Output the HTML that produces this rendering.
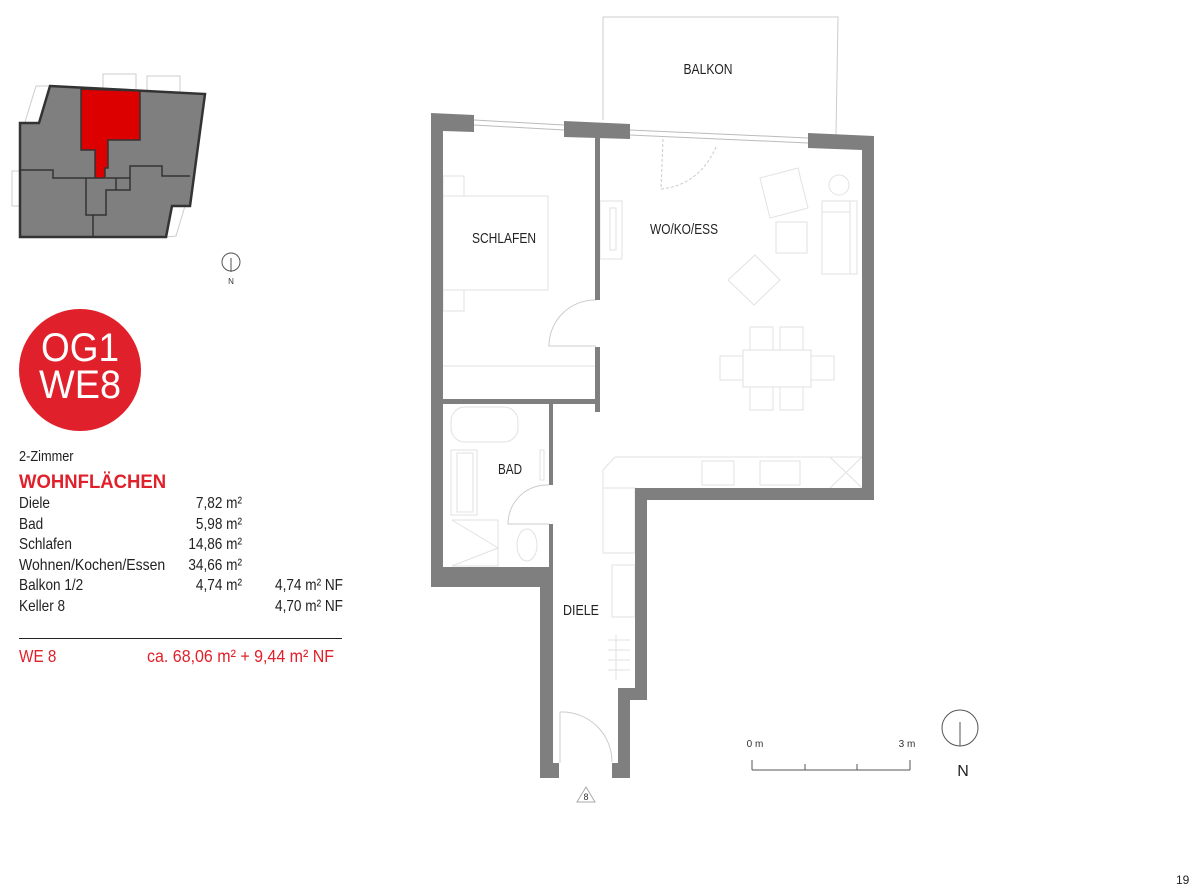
<!DOCTYPE html>
<html><head><meta charset="utf-8"><style>
html,body{margin:0;padding:0;background:#fff}
svg{display:block}
text{font-family:"Liberation Sans",sans-serif}
</style></head><body>
<svg width="1200" height="893" viewBox="0 0 1200 893" xmlns="http://www.w3.org/2000/svg">
<!-- keyplan -->
<g fill="none" stroke="#ccc" stroke-width="1">
<rect x="103" y="74" width="33" height="16"/><rect x="147" y="76" width="33" height="16"/>
<path d="M50,86 L36,86 L25,122"/><rect x="12" y="171" width="10" height="35"/>
<path d="M172,206 L185,206 L176,236 L166,237"/>
</g>
<polygon points="50,86 205,94 190,206 172,206 166,237 20,237 20,123 39,123" fill="#7f7f7f" stroke="#333" stroke-width="2.5"/>
<polygon points="81,89 140,91 140,140 108,140 108,168 105,168 105,178 95,178 95,150 81,150" fill="#dd0000" stroke="#333" stroke-width="1.5"/>
<g fill="none" stroke="#333" stroke-width="1.5">
<path d="M20,170 L53,170 L53,178 L95,178"/>
<path d="M86,178 L86,215 L106,215 L106,190 L130,190 L130,166 L162,166 L162,176 L190,176"/>
<path d="M116,178 L116,190 M106,178 L130,178"/>
<path d="M93,215 L93,237"/>
</g>
<circle cx="231" cy="262" r="9" fill="none" stroke="#555" stroke-width="1"/>
<line x1="231" y1="258" x2="231" y2="272" stroke="#555"/>
<text x="231" y="284" font-size="8" text-anchor="middle" fill="#333">N</text>

<!-- badge -->
<circle cx="80" cy="370" r="61" fill="#e0202a"/>
<text x="80" y="361" font-size="40" fill="#fff" text-anchor="middle" textLength="78" lengthAdjust="spacingAndGlyphs">OG1</text>
<text x="80" y="398" font-size="40" fill="#fff" text-anchor="middle" textLength="82" lengthAdjust="spacingAndGlyphs">WE8</text>

<!-- table -->
<g transform="scale(0.85,1)">
<g font-size="16" fill="#222">
<text x="22.4" y="461" font-size="15">2-Zimmer</text>
<text x="22.4" y="488" font-size="19" font-weight="bold" fill="#e0202a" textLength="173" lengthAdjust="spacingAndGlyphs">WOHNFLÄCHEN</text>
<text x="22.4" y="508">Diele</text><text x="284.7" y="508" text-anchor="end">7,82 m²</text>
<text x="22.4" y="529">Bad</text><text x="284.7" y="529" text-anchor="end">5,98 m²</text>
<text x="22.4" y="549">Schlafen</text><text x="284.7" y="549" text-anchor="end">14,86 m²</text>
<text x="22.4" y="570" textLength="172" lengthAdjust="spacingAndGlyphs">Wohnen/Kochen/Essen</text><text x="284.7" y="570" text-anchor="end">34,66 m²</text>
<text x="22.4" y="590">Balkon 1/2</text><text x="284.7" y="590" text-anchor="end">4,74 m²</text><text x="403.5" y="590" text-anchor="end">4,74 m² NF</text>
<text x="22.4" y="611">Keller 8</text><text x="403.5" y="611" text-anchor="end">4,70 m² NF</text>
</g>
<text x="22.4" y="662" font-size="18" fill="#e0202a">WE 8</text>
<text x="393" y="662" font-size="18" fill="#e0202a" text-anchor="end" textLength="220" lengthAdjust="spacingAndGlyphs">ca. 68,06 m² + 9,44 m² NF</text>
</g>
<line x1="19" y1="638.5" x2="342" y2="638.5" stroke="#222" stroke-width="1"/>

<!-- balcony -->
<path d="M603,17 L603,120 M603,17 L838,17 L836,135" fill="none" stroke="#ccc" stroke-width="1"/>
<text x="708" y="74" font-size="15" text-anchor="middle" fill="#222" textLength="49" lengthAdjust="spacingAndGlyphs">BALKON</text>

<!-- windows -->
<g stroke="#bbb" stroke-width="1" fill="none">
<path d="M474,120 L564,125 M474,125 L564,130"/>
<path d="M630,130 L808,138 M630,135 L808,143"/>
</g>
<!-- furniture light -->
<g stroke="#e2e2e2" stroke-width="1" fill="none">
<path d="M663,139 L661,189 Q700,185 717,145" stroke-dasharray="3,2" stroke="#ccc"/>
<rect x="443" y="176" width="21" height="20"/><rect x="443" y="196" width="105" height="94"/><rect x="443" y="290" width="21" height="21"/>
<line x1="443" y1="366" x2="595" y2="366"/>
<rect x="600" y="201" width="22" height="58"/><rect x="610" y="208" width="6" height="42"/>
<polygon points="760,178 798,168 808,208 770,218"/><circle cx="839" cy="185" r="10"/>
<rect x="822" y="201" width="35" height="73"/><line x1="822" y1="212" x2="850" y2="212"/><line x1="850" y1="201" x2="850" y2="274"/>
<rect x="776" y="222" width="31" height="31"/>
<polygon points="728,280 755,255 780,280 754,305"/>
<rect x="743" y="350" width="68" height="37"/>
<rect x="750" y="327" width="23" height="23"/><rect x="780" y="327" width="23" height="23"/>
<rect x="750" y="387" width="23" height="23"/><rect x="780" y="387" width="23" height="23"/>
<rect x="720" y="356" width="23" height="24"/><rect x="811" y="356" width="23" height="24"/>
<path d="M603,488 L603,470 L615,457 L862,457"/><rect x="702" y="461" width="32" height="24"/><rect x="760" y="461" width="40" height="24"/>
<path d="M830,457 L862,488 M862,457 L830,488"/>
<rect x="603" y="488" width="32" height="65"/><rect x="612" y="565" width="23" height="52"/>
<path d="M608,640 L630,640 M608,650 L630,650 M608,660 L630,660 M608,670 L630,670 M616,635 L616,680"/>
<rect x="451" y="407" width="67" height="35" rx="14"/><rect x="451" y="450" width="26" height="65"/><rect x="457" y="453" width="16" height="59"/>
<rect x="540" y="450" width="4" height="30"/>
<path d="M452,520 L498,520 L498,566 L452,566 M452,520 L498,548 L452,566"/>
<ellipse cx="527" cy="545" rx="10" ry="16"/>
</g>
<!-- doors -->
<g stroke="#ccc" stroke-width="1" fill="none">
<path d="M596,300 A46,46 0 0 0 549,346 L596,346"/>
<path d="M549,485 A39,39 0 0 0 508,524 L549,524"/>
<path d="M560,712 A50,50 0 0 1 612,762"/><line x1="560" y1="712" x2="560" y2="763"/>
</g>

<!-- walls -->
<g fill="#7f7f7f">
<polygon points="431,113 474,115 474,132 443,131 443,399 431,399"/>
<polygon points="564,121 630,124 630,139 564,137"/>
<polygon points="808,133 874,136 874,500 647,500 647,700 630,700 630,778 612,778 612,763 618,763 618,688 635,688 635,488 862,488 862,150 808,148"/>
<rect x="595" y="137" width="5" height="163"/>
<rect x="595" y="347" width="5" height="65"/>
<rect x="431" y="399" width="12" height="188"/>
<rect x="443" y="399" width="157" height="5"/>
<rect x="549" y="404" width="4" height="81"/>
<rect x="549" y="524" width="4" height="43"/>
<rect x="431" y="567" width="122" height="20"/>
<rect x="540" y="567" width="13" height="211"/>
<rect x="540" y="763" width="19" height="15"/>
</g>

<!-- room labels -->
<g font-size="15" fill="#222" text-anchor="middle">
<text x="504" y="243" textLength="64" lengthAdjust="spacingAndGlyphs">SCHLAFEN</text>
<text x="684" y="234" textLength="68" lengthAdjust="spacingAndGlyphs">WO/KO/ESS</text>
<text x="510" y="474" textLength="24" lengthAdjust="spacingAndGlyphs">BAD</text>
<text x="581" y="615" textLength="36" lengthAdjust="spacingAndGlyphs">DIELE</text>
</g>
<polygon points="577,802 586,787 595,802" fill="none" stroke="#aaa"/>
<text x="586" y="800" font-size="9" text-anchor="middle" fill="#333">8</text>

<!-- scale -->
<text x="755" y="747" font-size="10" text-anchor="middle" fill="#333">0 m</text>
<text x="907" y="747" font-size="10" text-anchor="middle" fill="#333">3 m</text>
<g stroke="#555" stroke-width="1">
<line x1="752" y1="770" x2="910" y2="770"/>
<line x1="752" y1="760" x2="752" y2="770"/><line x1="805" y1="764" x2="805" y2="770"/><line x1="857" y1="764" x2="857" y2="770"/><line x1="910" y1="760" x2="910" y2="770"/>
</g>
<circle cx="960" cy="728" r="18" fill="none" stroke="#555"/>
<line x1="960" y1="722" x2="960" y2="746" stroke="#555"/>
<text x="963" y="776" font-size="16" text-anchor="middle" fill="#222">N</text>
<text x="1176" y="884" font-size="12" fill="#222">19</text>
</svg>
</body></html>
